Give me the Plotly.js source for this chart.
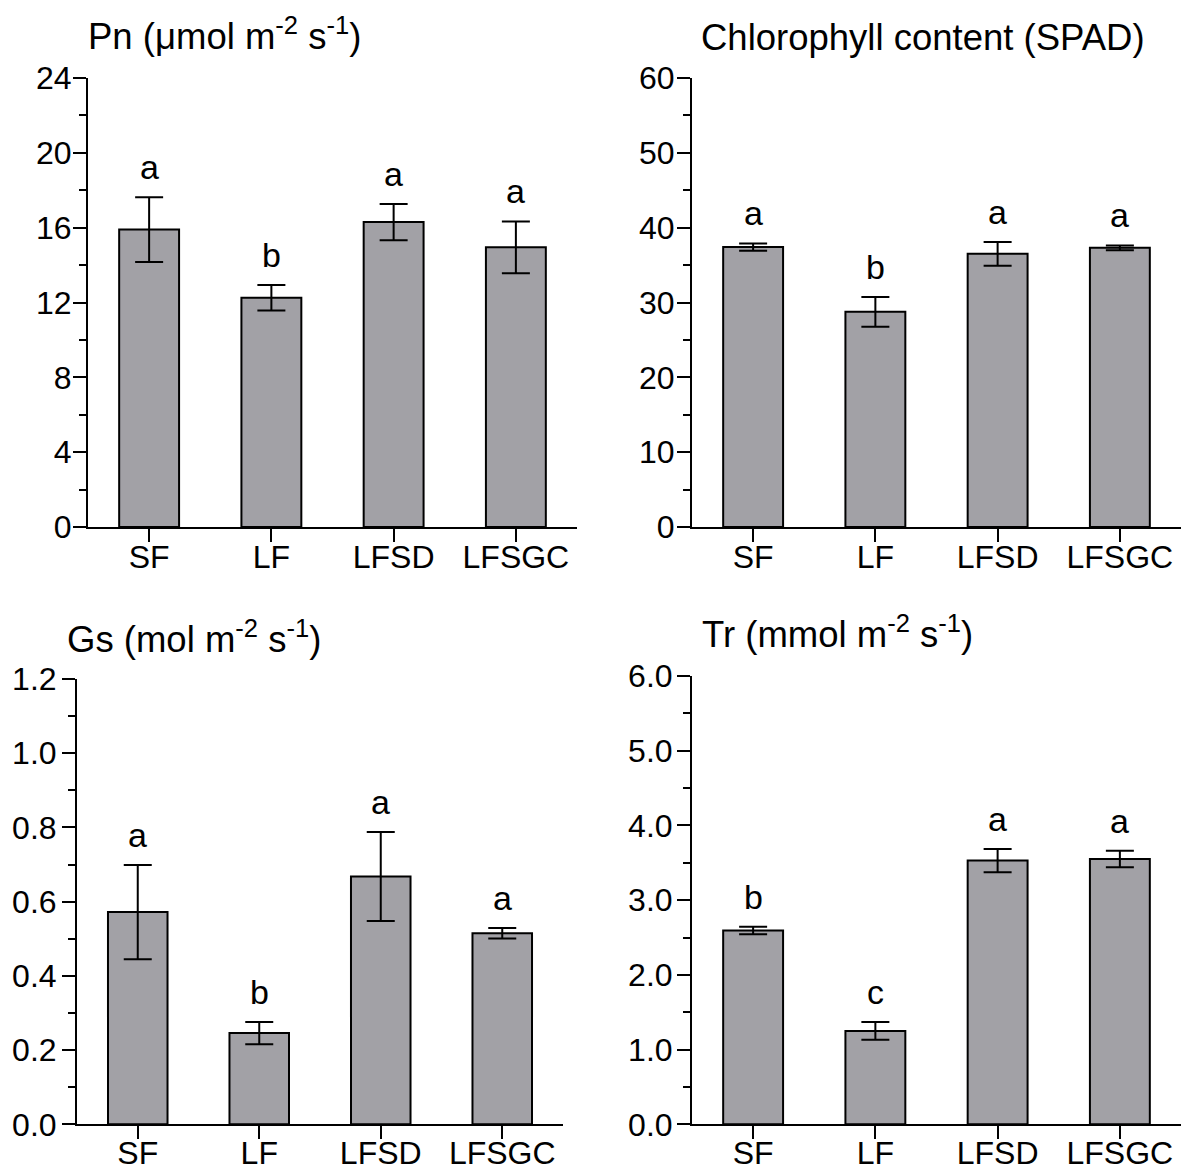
<!DOCTYPE html>
<html><head><meta charset="utf-8">
<script src="https://cdn.plot.ly/plotly-3.0.1.min.js"></script>
<style>html,body{margin:0;padding:0;background:#fff;}#chart{width:1202px;height:1171px;}</style>
</head><body><div id="chart"></div>
<script>
const categories = ['SF','LF','LFSD','LFSGC'];

const pnMean = [15.9, 12.25, 16.3, 14.95];
const pnErr = [1.73, 0.68, 0.97, 1.38];
const pnLetters = ['a','b','a','a'];

const chlMean = [37.4, 28.75, 36.5, 37.3];
const chlErr = [0.5, 2.0, 1.6, 0.33];
const chlLetters = ['a','b','a','a'];

const gsMean = [0.572, 0.246, 0.668, 0.515];
const gsErr = [0.127, 0.03, 0.12, 0.014];
const gsLetters = ['a','b','a','a'];

const trMean = [2.595, 1.25, 3.53, 3.55];
const trErr = [0.05, 0.12, 0.155, 0.11];
const trLetters = ['b','c','a','a'];

const panelTitles = ['Pn (\u03bcmol m<sup>-2</sup> s<sup>-1</sup>)',
  'Chlorophyll content (SPAD)',
  'Gs (mol m<sup>-2</sup> s<sup>-1</sup>)',
  'Tr (mmol m<sup>-2</sup> s<sup>-1</sup>)'];

const FONT = "Arial, 'Liberation Sans', sans-serif";
const W = 1202, H = 1171;
const px = v => v / W;
const py = v => (H - v) / H;

const panels = [
  {mean: pnMean, err: pnErr, letters: pnLetters, ymax: 24, dtick: 4, minor: 2, fmt: 'd', ys: -5, xs: -12,
   xd: [88, 577], yd: [78, 527], title: panelTitles[0], tx: 86, ty: 34},
  {mean: chlMean, err: chlErr, letters: chlLetters, ymax: 60, dtick: 10, minor: 5, fmt: 'd', ys: -4, xs: -12,
   xd: [692, 1181], yd: [78, 527], title: panelTitles[1], tx: 699, ty: 37.5},
  {mean: gsMean, err: gsErr, letters: gsLetters, ymax: 1.2, dtick: 0.2, minor: 0.1, fmt: '.1f', ys: -1, xs: -14,
   xd: [77, 563], yd: [679, 1124.3], title: panelTitles[2], tx: 65, ty: 637},
  {mean: trMean, err: trErr, letters: trLetters, ymax: 6, dtick: 1, minor: 0.5, fmt: '.1f', ys: -2, xs: -14,
   xd: [692, 1181], yd: [676, 1124.3], title: panelTitles[3], tx: 700, ty: 632}
];

const data = [];
const layout = {
  width: W, height: H,
  margin: {l: 0, r: 0, t: 0, b: 0},
  paper_bgcolor: '#fff', plot_bgcolor: '#fff',
  showlegend: false,
  font: {family: FONT, color: '#000'},
  annotations: []
};

panels.forEach((p, i) => {
  const n = i + 1;
  const xa = 'x' + (n === 1 ? '' : n);
  const ya = 'y' + (n === 1 ? '' : n);
  data.push({
    type: 'bar', x: categories, y: p.mean,
    xaxis: xa, yaxis: ya, width: 0.49,
    marker: {color: '#a2a1a6', line: {color: '#000', width: 2}},
    error_y: {type: 'data', array: p.err, visible: true, color: '#000', thickness: 2, width: 14},
    hoverinfo: 'skip'
  });
  layout['xaxis' + (n === 1 ? '' : n)] = {
    domain: [px(p.xd[0]), px(p.xd[1])], anchor: ya,
    type: 'category', range: [-0.5, 3.5],
    showline: true, linecolor: '#000', linewidth: 2,
    ticks: 'outside', ticklen: 13, tickwidth: 2, tickcolor: '#000',
    tickfont: {size: 32, family: FONT, color: '#000'},
    ticklabelstandoff: p.xs,
    showgrid: false, zeroline: false, fixedrange: true
  };
  layout['yaxis' + (n === 1 ? '' : n)] = {
    domain: [py(p.yd[1]), py(p.yd[0])], anchor: xa,
    range: [0, p.ymax], dtick: p.dtick, tick0: 0, tickformat: p.fmt,
    showline: true, linecolor: '#000', linewidth: 2,
    ticks: 'outside', ticklen: 13, tickwidth: 2, tickcolor: '#000',
    minor: {dtick: p.minor, ticklen: 7, tickwidth: 2, tickcolor: '#000', ticks: 'outside', showgrid: false},
    tickfont: {size: 32, family: FONT, color: '#000'},
    ticklabelstandoff: p.ys,
    showgrid: false, zeroline: false, fixedrange: true
  };
  p.letters.forEach((L, j) => {
    layout.annotations.push({
      xref: xa, yref: ya, x: categories[j], y: p.mean[j] + p.err[j],
      text: L, showarrow: false, yanchor: 'bottom', xanchor: 'center', yshift: 9,
      font: {size: 34, family: FONT, color: '#000'}
    });
  });
  layout.annotations.push({
    xref: 'paper', yref: 'paper', x: px(p.tx), y: py(p.ty),
    xanchor: 'left', yanchor: 'middle', text: p.title, showarrow: false,
    font: {size: 36.5, family: FONT, color: '#000'}
  });
});

Plotly.newPlot('chart', data, layout, {displayModeBar: false, staticPlot: true});
</script>
</body></html>
